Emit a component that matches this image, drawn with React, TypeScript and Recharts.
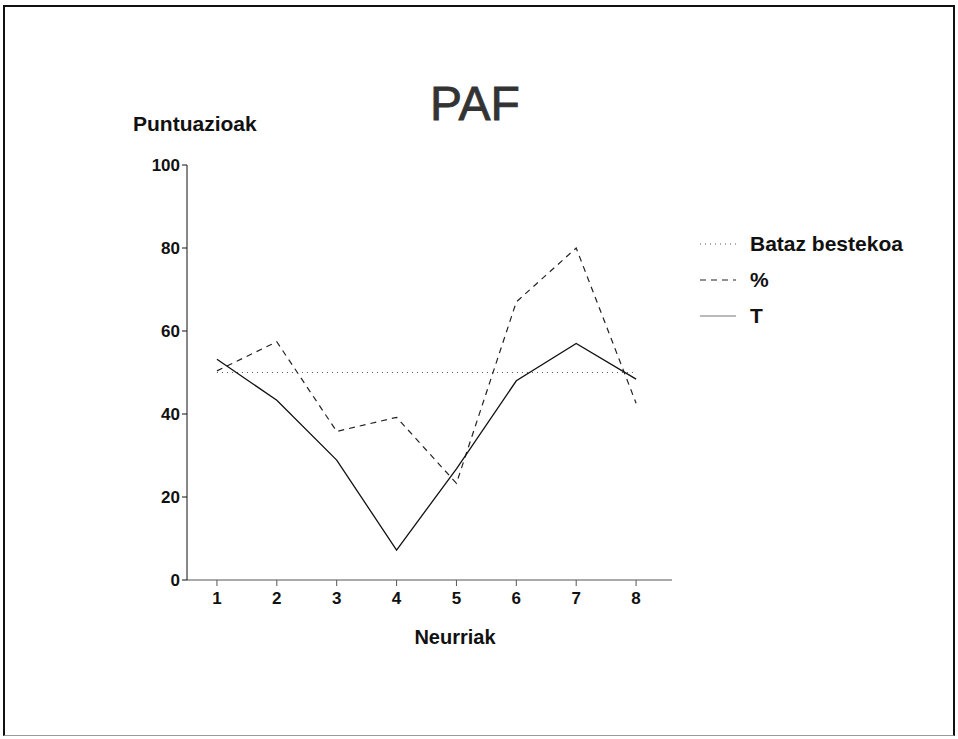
import { LineChart, Line, XAxis, YAxis, Legend } from 'recharts';

const neurriak = [1, 2, 3, 4, 5, 6, 7, 8];
const batazBestekoa = [50, 50, 50, 50, 50, 50, 50, 50];
const ehunekoa = [50.4, 57.4, 35.8, 39.2, 23.3, 67, 80, 42.6];
const tPuntuak = [53.2, 43.3, 28.9, 7.2, 26.8, 48, 57, 48.4];
const yTicks = [0, 20, 40, 60, 80, 100];

const data = neurriak.map((n, i) => ({
  n,
  bataz: batazBestekoa[i],
  ehuneko: ehunekoa[i],
  t: tPuntuak[i],
}));

const font = '"Liberation Sans", Arial, sans-serif';

const legendItems = [
  { name: 'Bataz bestekoa', dash: '1 4', color: '#555' },
  { name: '%', dash: '6 5', color: '#222' },
  { name: 'T', dash: undefined, color: '#777' },
];

function LegendBox() {
  return (
    <div style={{ fontFamily: font }}>
      {legendItems.map((it) => (
        <div key={it.name} style={{ display: 'flex', alignItems: 'center', height: 36 }}>
          <svg width={50} height={10}>
            <line x1={0} y1={5} x2={36} y2={5} stroke={it.color} strokeWidth={1.2} strokeDasharray={it.dash} />
          </svg>
          <span style={{ fontSize: 21, fontWeight: 'bold', color: '#111' }}>{it.name}</span>
        </div>
      ))}
    </div>
  );
}

export default function App() {
  return (
    <div style={{ position: 'absolute', left: 0, top: 0, width: 958, height: 739, background: '#fff', fontFamily: font }}>
      <div
        style={{
          position: 'absolute', left: 3, top: 5, width: 948, height: 728,
          borderLeft: '2px solid #111', borderTop: '2px solid #111', borderRight: '2px solid #111',
          borderBottom: '1px solid #999',
        }}
      />
      <div style={{ position: 'absolute', left: 375, width: 200, top: 76, textAlign: 'center', fontSize: 48, color: '#333', WebkitTextStroke: '0.8px #333' }}>PAF</div>
      <div style={{ position: 'absolute', left: 133, top: 112, fontSize: 21, fontWeight: 'bold', color: '#111' }}>Puntuazioak</div>
      <div style={{ position: 'absolute', left: 355, width: 200, top: 626, textAlign: 'center', fontSize: 20, fontWeight: 'bold', color: '#111' }}>Neurriak</div>
      <LineChart
        width={958}
        height={739}
        data={data}
        margin={{ top: 165, right: 286, bottom: 129, left: 137 }}
        style={{ position: 'absolute', left: 0, top: 0 }}
      >
        <XAxis
          dataKey='n'
          type='number'
          domain={[0.5, 8.6]}
          ticks={neurriak}
          height={30}
          stroke='#555'
          tickSize={6}
          tickMargin={6}
          tick={{ fill: '#111', fontSize: 17, fontWeight: 'bold', fontFamily: font }}
          allowDataOverflow
        />
        <YAxis
          type='number'
          domain={[0, 100]}
          ticks={yTicks}
          width={50}
          stroke='#111'
          tickSize={5}
          tick={{ fill: '#111', fontSize: 17, fontWeight: 'bold', fontFamily: font }}
        />
        <Legend
          layout='vertical'
          align='center'
          verticalAlign='middle'
          content={() => <LegendBox />}
          wrapperStyle={{ left: 700, top: 226, width: 240 }}
        />
        <Line dataKey='bataz' name='Bataz bestekoa' stroke='#555' strokeWidth={1.2} strokeDasharray='1 4' dot={false} isAnimationActive={false} />
        <Line dataKey='ehuneko' name='%' stroke='#222' strokeWidth={1.2} strokeDasharray='6 5' dot={false} isAnimationActive={false} />
        <Line dataKey='t' name='T' stroke='#111' strokeWidth={1.3} dot={false} isAnimationActive={false} />
      </LineChart>
    </div>
  );
}
